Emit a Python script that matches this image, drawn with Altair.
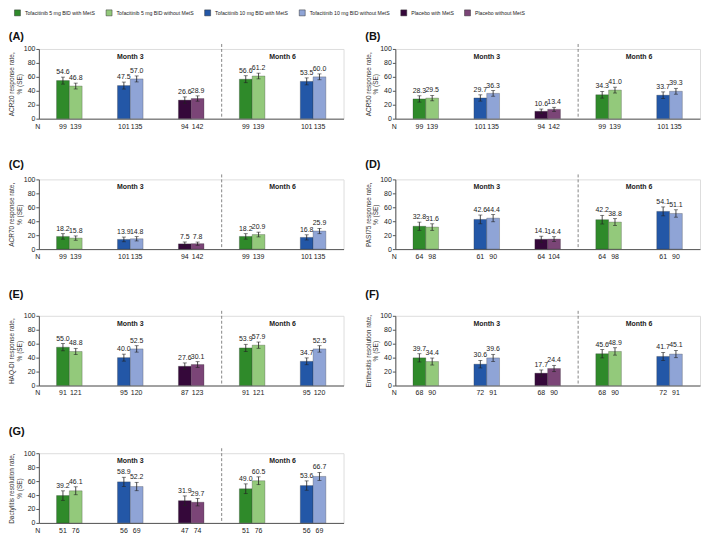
import altair as alt
import pandas as pd

SERIES = [
    "Tofacitinib 5 mg BID with MetS",
    "Tofacitinib 5 mg BID without MetS",
    "Tofacitinib 10 mg BID with MetS",
    "Tofacitinib 10 mg BID without MetS",
    "Placebo with MetS",
    "Placebo without MetS",
]
COLORS = ["#2f8a2a", "#93c97b", "#2357a7", "#8fa4d6", "#35083a", "#7b4577"]
GROUPS = ["T5 M3", "T10 M3", "PBO M3", "T5 M6", "T10 M6"]
GROUP_SERIES = [(0, 1), (2, 3), (4, 5), (0, 1), (2, 3)]
SUBS = ["with", "without"]

PANEL_KEYS = ["A", "B", "C", "D", "E", "F", "G"]
Y_TITLES = {
    "A": ["ACR20 response rate,", "% (SE)"],
    "B": ["ACR50 response rate,", "% (SE)"],
    "C": ["ACR70 response rate,", "% (SE)"],
    "D": ["PASI75 response rate,", "% (SE)"],
    "E": ["HAQ-DI response rate,", "% (SE)"],
    "F": ["Enthesitis resolution rate,", "% (SE)"],
    "G": ["Dactylitis resolution rate,", "% (SE)"],
}
Y_TICKS = [0, 20, 40, 60, 80, 100]

# values in order: 5mg M3 (with, without), 10mg M3, placebo M3, 5mg M6, 10mg M6
ACR20_VAL = [54.6, 46.8, 47.5, 57.0, 26.6, 28.9, 56.6, 61.2, 53.5, 60.0]
ACR20_SE = [5.0, 4.2, 5.0, 4.3, 4.6, 3.8, 5.0, 4.1, 5.0, 4.2]
ACR20_N = [99, 139, 101, 135, 94, 142, 99, 139, 101, 135]

ACR50_VAL = [28.3, 29.5, 29.7, 36.3, 10.6, 13.4, 34.3, 41.0, 33.7, 39.3]
ACR50_SE = [4.5, 3.9, 4.5, 4.1, 3.2, 2.9, 4.8, 4.2, 4.7, 4.2]
ACR50_N = [99, 139, 101, 135, 94, 142, 99, 139, 101, 135]

ACR70_VAL = [18.2, 15.8, 13.9, 14.8, 7.5, 7.8, 18.2, 20.9, 16.8, 25.9]
ACR70_SE = [3.9, 3.1, 3.4, 3.1, 2.7, 2.3, 3.9, 3.4, 3.7, 3.8]
ACR70_N = [99, 139, 101, 135, 94, 142, 99, 139, 101, 135]

PASI75_VAL = [32.8, 31.6, 42.6, 44.4, 14.1, 14.4, 42.2, 38.8, 54.1, 51.1]
PASI75_SE = [5.9, 4.7, 6.3, 5.2, 4.4, 3.4, 6.2, 4.9, 6.4, 5.3]
PASI75_N = [64, 98, 61, 90, 64, 104, 64, 98, 61, 90]

HAQ_VAL = [55.0, 48.8, 40.0, 52.5, 27.6, 30.1, 53.9, 57.9, 34.7, 52.5]
HAQ_SE = [5.2, 4.5, 5.0, 4.6, 4.8, 4.1, 5.2, 4.5, 4.9, 4.6]
HAQ_N = [91, 121, 95, 120, 87, 123, 91, 121, 95, 120]

ENTH_VAL = [39.7, 34.4, 30.6, 39.6, 17.7, 24.4, 45.6, 48.9, 41.7, 45.1]
ENTH_SE = [5.9, 5.0, 5.4, 5.1, 4.6, 4.5, 6.0, 5.3, 5.8, 5.2]
ENTH_N = [68, 90, 72, 91, 68, 90, 68, 90, 72, 91]

DACT_VAL = [39.2, 46.1, 58.9, 52.2, 31.9, 29.7, 49.0, 60.5, 53.6, 66.7]
DACT_SE = [6.8, 5.7, 6.6, 6.0, 6.8, 5.3, 7.0, 5.6, 6.7, 5.7]
DACT_N = [51, 76, 56, 69, 47, 74, 51, 76, 56, 69]

PANEL_DATA = {
    "A": (ACR20_VAL, ACR20_SE, ACR20_N),
    "B": (ACR50_VAL, ACR50_SE, ACR50_N),
    "C": (ACR70_VAL, ACR70_SE, ACR70_N),
    "D": (PASI75_VAL, PASI75_SE, PASI75_N),
    "E": (HAQ_VAL, HAQ_SE, HAQ_N),
    "F": (ENTH_VAL, ENTH_SE, ENTH_N),
    "G": (DACT_VAL, DACT_SE, DACT_N),
}

rows = []
for key in PANEL_KEYS:
    vals, ses, ns = PANEL_DATA[key]
    for gi, g in enumerate(GROUPS):
        for si, s in enumerate(SUBS):
            i = gi * 2 + si
            rows.append({
                "panel": key, "group": g, "sub": s,
                "series": SERIES[GROUP_SERIES[gi][si]],
                "value": vals[i], "lo": vals[i] - ses[i], "hi": vals[i] + ses[i],
                "label": f"{vals[i]:.1f}", "n": str(ns[i]),
            })
df = pd.DataFrame(rows)

FONT = "Liberation Sans"
TXT = "#222"
W, H = 306, 70
STEP = W / 5.0
YSCALE = alt.Scale(domain=[0, 100])


def y_axis(key):
    return alt.Axis(values=Y_TICKS, title=Y_TITLES[key], tickCount=6,
                    titleFontSize=6.5, titleFontWeight="normal", titleLineHeight=7.5,
                    titlePadding=1, titleColor="#333", labelFontSize=7, labelColor=TXT,
                    labelPadding=1, tickSize=3, tickColor="#555", domainColor="#555",
                    labelOverlap=False, grid=False)


def panel(key, title_offset):
    d = df[df.panel == key]
    ax = y_axis(key)
    x = alt.X("group:N", sort=GROUPS,
              scale=alt.Scale(domain=GROUPS, paddingInner=0.58, paddingOuter=0.29),
              axis=alt.Axis(title=None, labels=False, ticks=False, domainColor="#555", domainWidth=1))
    xo = alt.XOffset("sub:N", sort=SUBS, scale=alt.Scale(domain=SUBS))
    base = alt.Chart(d).encode(x=x, xOffset=xo)
    legend = alt.Legend(title=None, orient="none", legendX=-25, legendY=-40, direction="horizontal",
                        symbolType="square", symbolSize=36, symbolStrokeWidth=0.5,
                        symbolStrokeColor="#333", labelFontSize=5.2, labelColor=TXT,
                        columnPadding=9, labelOffset=4)
    bars = base.mark_bar(stroke="#333", strokeWidth=0.4, strokeOpacity=0.7).encode(
        y=alt.Y("value:Q", scale=YSCALE, axis=ax),
        color=alt.Color("series:N", scale=alt.Scale(domain=SERIES, range=COLORS), legend=legend),
    )
    err = base.mark_rule(color="#222", strokeWidth=0.8).encode(
        y=alt.Y("lo:Q", scale=YSCALE, axis=ax), y2="hi:Q")
    cap_hi = base.mark_tick(color="#222", thickness=0.8, size=4).encode(
        y=alt.Y("hi:Q", scale=YSCALE, axis=ax))
    cap_lo = base.mark_tick(color="#222", thickness=0.8, size=4).encode(
        y=alt.Y("lo:Q", scale=YSCALE, axis=ax))
    labels = base.mark_text(baseline="bottom", dy=-2, fontSize=7, color=TXT, font=FONT).encode(
        y=alt.Y("hi:Q", scale=YSCALE, axis=ax), text="label:N")
    ns = base.mark_text(baseline="middle", fontSize=7, color=TXT, font=FONT).encode(
        y=alt.value(H + 8), text="n:N")
    nlab = alt.Chart(pd.DataFrame({"t": ["N"]})).mark_text(
        baseline="middle", fontSize=7, color=TXT, font=FONT).encode(
        x=alt.value(-1), y=alt.value(H + 8), text="t:N")
    m3 = alt.Chart(pd.DataFrame({"group": ["T10 M3"], "t": ["Month 3"]})).mark_text(
        fontSize=7, fontWeight="bold", color=TXT, font=FONT, baseline="middle").encode(
        x=alt.X("group:N", sort=GROUPS), y=alt.value(8), text="t:N")
    m6 = alt.Chart(pd.DataFrame({"group": ["T5 M6"], "t": ["Month 6"]})).mark_text(
        fontSize=7, fontWeight="bold", color=TXT, font=FONT, baseline="middle", dx=STEP / 2).encode(
        x=alt.X("group:N", sort=GROUPS), y=alt.value(8), text="t:N")
    dash = alt.Chart(pd.DataFrame({"group": ["PBO M3"]})).mark_rule(
        strokeDash=[3, 2], color="#666", strokeWidth=0.8, xOffset=STEP / 2).encode(
        x=alt.X("group:N", sort=GROUPS), y=alt.value(-5), y2=alt.value(H))
    return alt.layer(bars, err, cap_hi, cap_lo, labels, ns, nlab, m3, m6, dash).properties(
        width=W, height=H,
        title=alt.TitleParams(text=f"({key})", anchor="start", frame="bounds", fontSize=11,
                              fontWeight="bold", color="#111", font=FONT, offset=title_offset),
    )


row1 = alt.hconcat(panel("A", 2), panel("B", 2), spacing=20)
row2 = alt.hconcat(panel("C", 4), panel("D", 4), spacing=20)
row3 = alt.hconcat(panel("E", 10), panel("F", 10), spacing=20)
row4 = panel("G", 11)

chart = alt.vconcat(row1, row2, row3, row4, spacing=28).properties(
    padding=0
).configure_view(stroke=None).configure(font=FONT)

chart.save("out.html", embed_options={"renderer": "svg", "actions": False})
